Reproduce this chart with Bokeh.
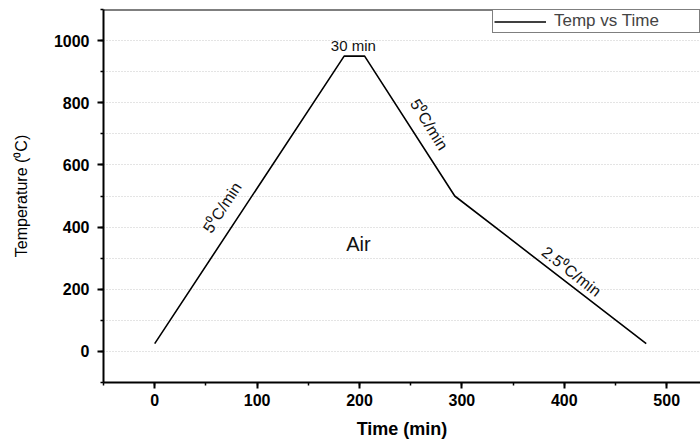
from bokeh.plotting import figure
from bokeh.models import (Range1d, SingleIntervalTicker, Span, Legend, LegendItem,
                          ColumnDataSource)
from bokeh.core.properties import value
from bokeh.embed import file_html
from bokeh.resources import INLINE
import math

# ---- data ----
time_min = [0, 185, 205, 293, 480]
temp_c = [25, 950, 950, 500, 25]

ann_text = ["30 min", "5\u2070C/min", "5\u2070C/min", "2.5\u2070C/min", "Air"]
ann_x = [194, 66, 268, 407, 199]
ann_y = [985, 463, 730, 257, 347]
ann_angle_deg = [0, 57, -58, -38, 0]
ann_size = ["15px", "16px", "16px", "16px", "20px"]

FONT = "Liberation Sans"

p = figure(width=700, height=441, output_backend="svg", toolbar_location=None,
           x_range=Range1d(-50, 533), y_range=Range1d(-100, 1100),
           min_border_left=103, min_border_right=0, min_border_top=9,
           min_border_bottom=58)
p.outline_line_color = None
p.background_fill_color = "white"
p.border_fill_color = "white"

r = p.line(time_min, temp_c, line_color="black", line_width=1.6)

src = ColumnDataSource(dict(x=ann_x, y=ann_y, t=ann_text,
                            a=[math.radians(d) for d in ann_angle_deg],
                            s=ann_size))
p.text(x="x", y="y", text="t", angle="a", source=src, text_font=value(FONT),
       text_font_size="s", text_align="center", text_baseline="middle",
       text_color="#111111")

# top frame line
p.add_layout(Span(location=1100, dimension="width", line_color="black", line_width=2))

# axes
p.xaxis.ticker = SingleIntervalTicker(interval=100, num_minor_ticks=2)
p.yaxis.ticker = SingleIntervalTicker(interval=200, num_minor_ticks=2)
for ax in (p.xaxis[0], p.yaxis[0]):
    ax.axis_line_width = 2
    ax.axis_line_color = "black"
    ax.major_tick_line_width = 2
    ax.major_tick_line_color = "black"
    ax.major_tick_out = 6
    ax.major_tick_in = 0
    ax.minor_tick_line_width = 1.5
    ax.minor_tick_line_color = "black"
    ax.minor_tick_out = 3
    ax.minor_tick_in = 0
    ax.major_label_text_font = FONT
    ax.major_label_text_font_style = "bold"
    ax.major_label_text_font_size = "16px"
    ax.major_label_text_color = "black"
    ax.axis_label_text_font = FONT
    ax.axis_label_text_color = "black"

p.xaxis.axis_label = "Time (min)"
p.xaxis.axis_label_text_font_style = "bold"
p.xaxis.axis_label_text_font_size = "18px"
p.xaxis.major_label_standoff = 5
p.xaxis.axis_label_standoff = 10

p.yaxis.axis_label = "Temperature (\u2070C)"
p.yaxis.axis_label_text_font_style = "normal"
p.yaxis.axis_label_text_font_size = "16px"
p.yaxis.major_label_standoff = 8
p.yaxis.axis_label_standoff = 21

# grid: dotted lines at minor ticks only on y
p.xgrid.grid_line_color = None
p.ygrid.grid_line_color = None
p.ygrid.minor_grid_line_color = "#c8c8c8"
p.ygrid.minor_grid_line_dash = "1 2"
p.ygrid.minor_grid_line_width = 1

legend = Legend(items=[LegendItem(label="Temp vs Time", renderers=[r])],
                location="top_right", border_line_color="black",
                border_line_width=1, padding=1, margin=0, spacing=0,
                glyph_width=52, glyph_height=17, label_height=17,
                label_width=144, label_standoff=8,
                label_text_font=FONT, label_text_font_size="17px",
                background_fill_alpha=1)
p.add_layout(legend)

open("out.html", "w").write(file_html(p, INLINE))
